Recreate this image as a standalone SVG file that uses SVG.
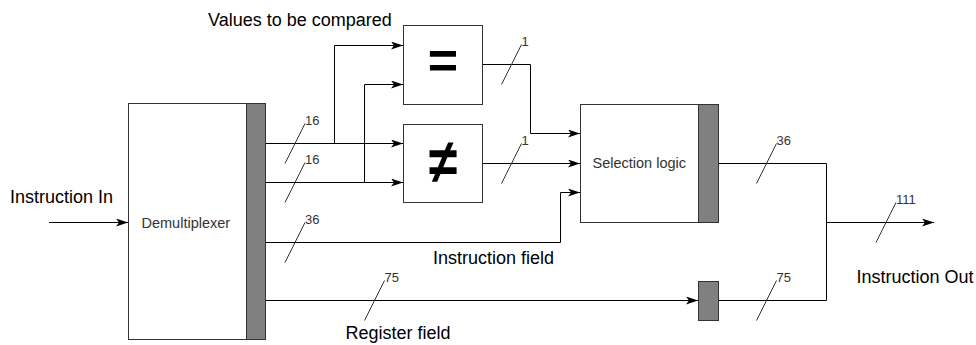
<svg xmlns="http://www.w3.org/2000/svg" width="976" height="345" viewBox="0 0 976 345">
  <defs>
    <marker id="arrow" markerUnits="userSpaceOnUse" markerWidth="12" markerHeight="8" refX="12" refY="4" orient="auto">
      <path d="M0,0 L12,4 L0,8 L3,4 Z" fill="#000"/>
    </marker>
    <style>
      .box { fill: #fff; stroke: #333; stroke-width: 1; }
      .bar { fill: #808080; stroke: #333; stroke-width: 1; }
      .wire { fill: none; stroke: #000; stroke-width: 1; }
      .arrow { marker-end: url(#arrow); }
      .slash { stroke: #333; stroke-width: 1; }
      .width { font-family: "Liberation Sans", Arial, sans-serif; font-size: 13px; fill: #333; }
      .label { font-family: "Liberation Sans", Arial, sans-serif; font-size: 18px; fill: #000; }
      .name { font-family: "Liberation Sans", Arial, sans-serif; font-size: 14.5px; fill: #333; }
      .op { font-family: "Liberation Sans", "DejaVu Sans", sans-serif; font-size: 52px; font-weight: bold; fill: #000; text-anchor: middle; }
    </style>
  </defs>
  <rect width="976" height="345" fill="#fff"/>

  <!-- connectors -->
  <g id="connectors">
    <path class="wire arrow" d="M49,222.5 H128"/>
    <path class="wire arrow" d="M265.5,143.5 H403"/>
    <path class="wire arrow" d="M334.5,143.5 V45.5 H403"/>
    <path class="wire arrow" d="M265.5,182.5 H403"/>
    <path class="wire arrow" d="M364.5,182.5 V84.5 H403"/>
    <path class="wire arrow" d="M482.5,64.5 H530.5 V133.5 H580"/>
    <path class="wire arrow" d="M482.5,163.5 H580"/>
    <path class="wire arrow" d="M265.5,242.5 H560.5 V192.5 H580"/>
    <path class="wire arrow" d="M265.5,300.5 H698"/>
    <path class="wire" d="M718.5,163.5 H826.5 V300.5 H718.5"/>
    <path class="wire arrow" d="M826.5,222.5 H934"/>

    <!-- bus width marks -->
    <line class="slash" x1="285" y1="163.5" x2="305" y2="123.5"/>
    <text class="width" x="305" y="124.5">16</text>
    <line class="slash" x1="285" y1="202.5" x2="305" y2="162.5"/>
    <text class="width" x="305" y="163.5">16</text>
    <line class="slash" x1="285" y1="262.5" x2="305" y2="222.5"/>
    <text class="width" x="305" y="223.5">36</text>
    <line class="slash" x1="364.5" y1="320.5" x2="384.5" y2="280.5"/>
    <text class="width" x="384.5" y="281.5">75</text>
    <line class="slash" x1="501.5" y1="84.5" x2="521.5" y2="44.5"/>
    <text class="width" x="521.5" y="45.5">1</text>
    <line class="slash" x1="501.5" y1="183.5" x2="521.5" y2="143.5"/>
    <text class="width" x="521.5" y="144.5">1</text>
    <line class="slash" x1="756.5" y1="183.5" x2="776.5" y2="143.5"/>
    <text class="width" x="776.5" y="144.5">36</text>
    <line class="slash" x1="756.5" y1="320.5" x2="776.5" y2="280.5"/>
    <text class="width" x="776.5" y="281.5">75</text>
    <line class="slash" x1="876" y1="242.5" x2="896" y2="202.5"/>
    <text class="width" x="896" y="203.5">111</text>
  </g>

  <!-- demultiplexer -->
  <g id="demux">
    <rect class="box" x="128.5" y="103.5" width="137" height="236"/>
    <rect class="bar" x="246.5" y="103.5" width="19" height="236"/>
    <text class="name" x="141.5" y="227.5">Demultiplexer</text>
  </g>

  <!-- comparators -->
  <g id="equal">
    <rect class="box" x="403.5" y="25.5" width="79" height="79"/>
    <text class="op" x="443" y="78">=</text>
  </g>
  <g id="notequal">
    <rect class="box" x="403.5" y="124.5" width="79" height="78"/>
    <text class="op" x="443" y="179" transform="translate(443 158) scale(1 1.2) translate(-443 -158)">≠</text>
  </g>

  <!-- selection logic -->
  <g id="selection">
    <rect class="box" x="580.5" y="104.5" width="138" height="118"/>
    <rect class="bar" x="698.5" y="104.5" width="20" height="118"/>
    <text class="name" x="592.5" y="168">Selection logic</text>
  </g>

  <!-- register field latch -->
  <g id="latch">
    <rect class="bar" x="698.5" y="281.5" width="20" height="39"/>
  </g>

  <!-- labels -->
  <g id="labels">
    <text class="label" x="208" y="26">Values to be compared</text>
    <text class="label" x="10" y="203">Instruction In</text>
    <text class="label" x="433" y="264">Instruction field</text>
    <text class="label" x="345.5" y="339">Register field</text>
    <text class="label" x="856.5" y="283">Instruction Out</text>
  </g>
</svg>
